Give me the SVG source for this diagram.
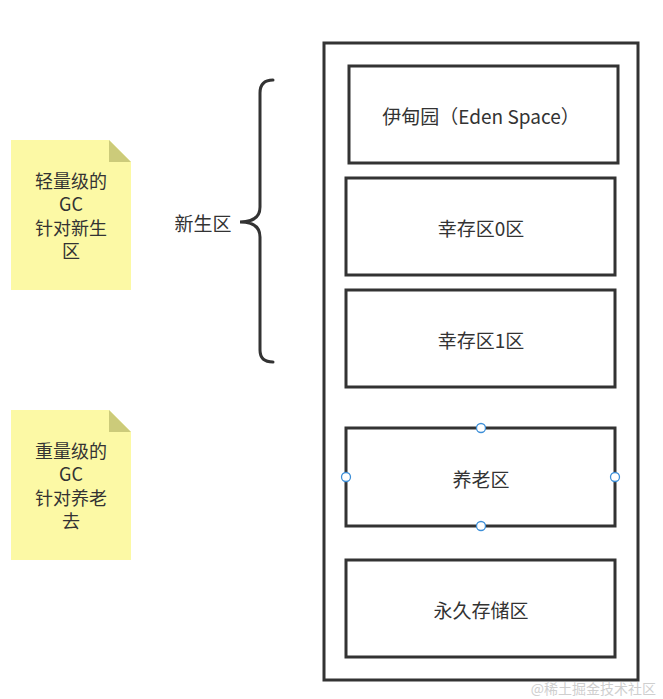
<svg xmlns="http://www.w3.org/2000/svg" width="663" height="699" viewBox="0 0 663 699">
<style>
.box{fill:#fff;stroke:#333;stroke-width:3;}
.t{font-family:"Noto Sans CJK SC","Noto Sans",sans-serif;font-size:19px;fill:#333;text-anchor:middle;dominant-baseline:central;}
.n{font-family:"Noto Sans CJK SC","Noto Sans",sans-serif;font-size:18px;fill:#333;text-anchor:middle;dominant-baseline:central;}
.note{fill:#fcf9a5;}
.fold{fill:#cccb7a;}
.h{fill:#fff;stroke:#3d8fd8;stroke-width:1.3;}
</style>
<rect width="663" height="699" fill="#fff"/>
<g id="heap"><rect class="box" x="324" y="43" width="314" height="637"/></g>
<g id="eden"><rect class="box" x="349" y="66" width="269" height="97"/><text class="t" x="481" y="115">伊甸园（Eden Space）</text></g>
<g id="s0"><rect class="box" x="346" y="178" width="269" height="97"/><text class="t" x="481" y="227">幸存区0区</text></g>
<g id="s1"><rect class="box" x="346" y="290" width="269" height="97"/><text class="t" x="481" y="339">幸存区1区</text></g>
<g id="old"><rect class="box" x="346" y="428" width="269" height="98"/><text class="t" x="481" y="478">养老区</text>
<circle class="h" cx="481" cy="428" r="4.5"/><circle class="h" cx="346" cy="477" r="4.5"/><circle class="h" cx="615" cy="477" r="4.5"/><circle class="h" cx="481" cy="526" r="4.5"/></g>
<g id="perm"><rect class="box" x="346" y="560" width="269" height="97"/><text class="t" x="481" y="609">永久存储区</text></g>
<g id="connectors"><path d="M273 80 Q260 80 260 93 L260 207 Q260 222 240 222 Q260 222 260 237 L260 350 Q260 362 273 362" fill="none" stroke="#333" stroke-width="3" stroke-linecap="round"/></g>
<g id="young"><text class="t" x="203" y="222">新生区</text></g>
<g id="note1"><path class="note" d="M11 140 H109 L131 162 V290 H11 Z"/><path class="fold" d="M109 140 L131 162 H109 Z"/>
<text class="n" x="71" y="180">轻量级的</text><text class="n" x="71" y="203">GC</text><text class="n" x="71" y="227">针对新生</text><text class="n" x="71" y="250">区</text></g>
<g id="note2"><path class="note" d="M11 410 H109 L131 432 V560 H11 Z"/><path class="fold" d="M109 410 L131 432 H109 Z"/>
<text class="n" x="71" y="450">重量级的</text><text class="n" x="71" y="473">GC</text><text class="n" x="71" y="497">针对养老</text><text class="n" x="71" y="520">去</text></g>
<text x="656" y="688" font-family="Noto Sans CJK SC,sans-serif" font-size="14" fill="#cfcfcf" text-anchor="end" dominant-baseline="central">@稀土掘金技术社区</text>
</svg>
